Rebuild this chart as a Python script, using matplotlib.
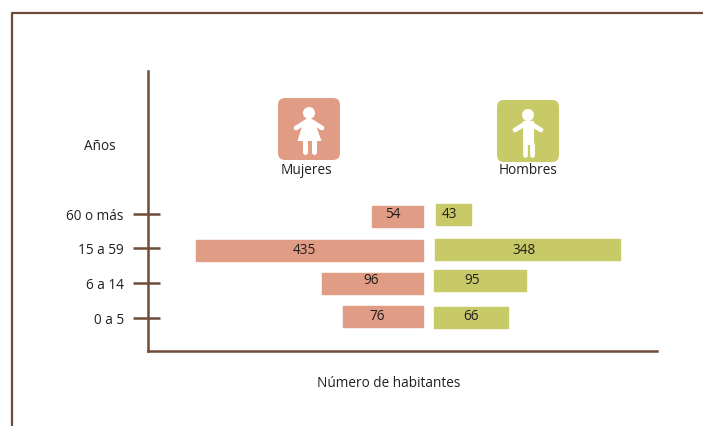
import matplotlib.pyplot as plt
from matplotlib.lines import Line2D
from matplotlib.patches import Circle, FancyBboxPatch, Polygon

grupos = ['60 o más', '15 a 59', '6 a 14', '0 a 5']
mujeres = [54, 435, 96, 76]
hombres = [43, 348, 95, 66]
# the drawn bars are not proportional to the printed numbers, so lengths are read separately
largo_mujeres = [51, 227, 101, 80]
largo_hombres = [35, 185, 92, 74]

ROSA = '#e09c84'
VERDE = '#c8ca68'
CAFE = '#6f4c38'
TEXTO = '#231f1d'

plt.rcParams['font.family'] = 'Open Sans'
plt.rcParams['font.size'] = 9.8


def linea_blanca(ax, xs, ys, lw):
    ax.add_line(Line2D(xs, ys, color='white', lw=lw, solid_capstyle='round',
                       solid_joinstyle='round'))


def icono(ax, x, y, color):
    caja = FancyBboxPatch((x + 5, y + 5), 52, 52, boxstyle='round,pad=5,rounding_size=7',
                          facecolor=color, edgecolor='none')
    ax.add_patch(caja)
    cx = x + 31
    ax.add_patch(Circle((cx, y + 15), 6, color='white', lw=0))
    linea_blanca(ax, [cx - 13, cx, cx + 13], [y + 30, y + 22, y + 30], 3.4)


def main():
    fig = plt.figure(figsize=(7.03, 4.27), dpi=100)
    ax = fig.add_axes([148 / 703, 1 - 352 / 427, (657 - 148) / 703, (352 - 72) / 427])
    # axes units are the pixels of the picture
    ax.set_xlim(148, 657)
    ax.set_ylim(352, 72)
    ax.patch.set_alpha(0)

    for s in ['top', 'right']:
        ax.spines[s].set_visible(False)
    for s in ['left', 'bottom']:
        ax.spines[s].set_color(CAFE)
        ax.spines[s].set_linewidth(1.8)

    y_ticks = [215, 249, 284, 319]
    ax.set_xticks([])
    ax.set_yticks(y_ticks)
    ax.set_yticklabels(grupos, color=TEXTO)
    # ticks cross the axis line, longer on the outside
    ax.yaxis.remove_overlapping_locs = False
    ax.set_yticks(y_ticks, minor=True)
    ax.tick_params(axis='y', which='major', direction='out', length=11, width=1.8,
                   color=CAFE, pad=6.5)
    ax.tick_params(axis='y', which='minor', direction='in', length=8.5, width=1.8, color=CAFE)

    y_muj = [217, 251, 284, 317]
    y_hom = [215.5, 250, 281, 318]
    ax.barh(y_muj, [-v for v in largo_mujeres], left=423, height=21, color=ROSA,
            edgecolor=ROSA, linewidth=1, joinstyle='round')
    ax.barh(y_hom, largo_hombres, left=[436, 435, 434.5, 434], height=21, color=VERDE,
            edgecolor=VERDE, linewidth=1, joinstyle='round')

    # number labels sit off centre in the original
    x_muj = [393, 304, 371, 377]
    x_hom = [450, 524, 472, 471]
    ylab = [215, 251, 281, 317]
    for v, x, y in zip(mujeres, x_muj, ylab):
        ax.text(x, y, str(v), ha='center', va='center', color=TEXTO)
    for v, x, y in zip(hombres, x_hom, ylab):
        ax.text(x, y, str(v), ha='center', va='center', color=TEXTO)

    # icons
    icono(ax, 278, 99, ROSA)
    ax.add_patch(Polygon([(304, 121), (314, 121), (321.5, 142), (297.5, 142)],
                         color='white', lw=0))
    linea_blanca(ax, [305.5, 305.5], [141, 153], 3.6)
    linea_blanca(ax, [314, 314], [141, 153], 3.6)

    icono(ax, 497, 101, VERDE)
    ax.add_patch(Polygon([(523, 122), (534, 122), (534, 146), (523, 146)], color='white', lw=0))
    linea_blanca(ax, [525.2, 525.2], [145, 155.5], 3.4)
    linea_blanca(ax, [531.8, 531.8], [145, 155.5], 3.4)

    ax.text(306, 171, 'Mujeres', ha='center', va='center', color=TEXTO)
    ax.text(528, 171, 'Hombres', ha='center', va='center', color=TEXTO)
    ax.text(100, 147, 'Años', ha='center', va='center', color=TEXTO)
    ax.text(389, 384, 'Número de habitantes', ha='center', va='center', color=TEXTO)

    # outer frame runs off the right and bottom of the picture
    ax.add_line(Line2D([12, 12, 703], [427, 14, 14], color=CAFE, lw=1.6, clip_on=False))

    plt.savefig('out.png', dpi=100)


if __name__ == '__main__':
    main()
